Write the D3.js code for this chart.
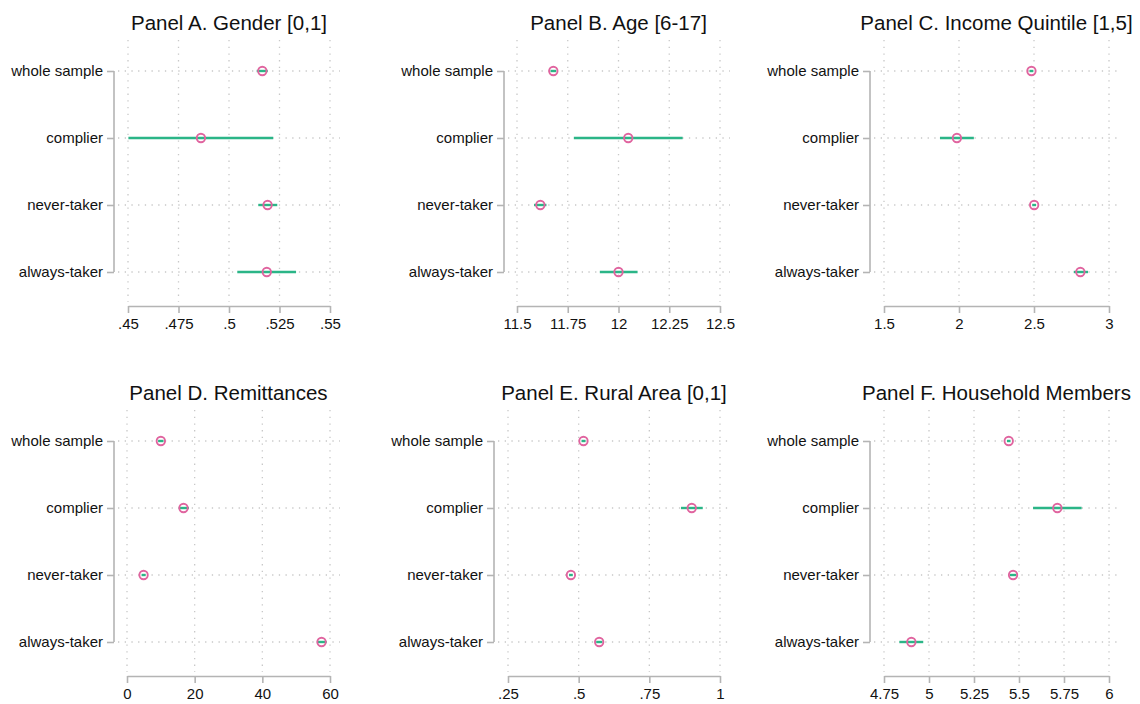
<!DOCTYPE html>
<html>
<head>
<meta charset="utf-8">
<script src="https://cdn.jsdelivr.net/npm/d3@7"></script>
<style>
  html, body { margin: 0; padding: 0; background: #fff; }
  svg { display: block; font-family: "Liberation Sans", Arial, Helvetica, sans-serif; }
</style>
</head>
<body>
<svg id="chart" width="1140" height="704"></svg>
<script>
// ---------------- data ----------------
const categories = ["whole sample", "complier", "never-taker", "always-taker"];

const panelTitles = [
  "Panel A. Gender [0,1]",
  "Panel B. Age [6-17]",
  "Panel C. Income Quintile [1,5]",
  "Panel D. Remittances",
  "Panel E. Rural Area [0,1]",
  "Panel F. Household Members"
];

// point estimates (order follows categories)
const estA = [0.5165, 0.4861, 0.5191, 0.5187];
const estB = [11.679, 12.048, 11.615, 12.000];
const estC = [2.483, 1.986, 2.501, 2.809];
const estD = [10.0, 16.7, 4.9, 57.5];
const estE = [0.517, 0.900, 0.4725, 0.5726];
const estF = [5.443, 5.713, 5.467, 4.902];

// confidence intervals: lower / upper
const loA = [0.5137, 0.4502, 0.5145, 0.5041];
const hiA = [0.5192, 0.5219, 0.5239, 0.5332];
const loB = [11.665, 11.780, 11.584, 11.908];
const hiB = [11.693, 12.316, 11.645, 12.094];
const loC = [2.470, 1.873, 2.488, 2.765];
const hiC = [2.496, 2.099, 2.514, 2.860];
const loD = [9.2, 15.3, 4.3, 56.1];
const hiD = [10.8, 18.3, 5.5, 59.0];
const loE = [0.510, 0.862, 0.466, 0.562];
const hiE = [0.524, 0.939, 0.479, 0.584];
const loF = [5.433, 5.578, 5.449, 4.835];
const hiF = [5.453, 5.848, 5.486, 4.968];

// axis domains and ticks
const domains = [[0.45, 0.55], [11.5, 12.5], [1.5, 3], [0, 60], [0.25, 1], [4.75, 6]];
const tickValsA = [0.45, 0.475, 0.5, 0.525, 0.55];
const tickValsB = [11.5, 11.75, 12, 12.25, 12.5];
const tickValsC = [1.5, 2, 2.5, 3];
const tickValsD = [0, 20, 40, 60];
const tickValsE = [0.25, 0.5, 0.75, 1];
const tickValsF = [4.75, 5, 5.25, 5.5, 5.75, 6];
const tickLabA = [".45", ".475", ".5", ".525", ".55"];
const tickLabB = ["11.5", "11.75", "12", "12.25", "12.5"];
const tickLabC = ["1.5", "2", "2.5", "3"];
const tickLabD = ["0", "20", "40", "60"];
const tickLabE = [".25", ".5", ".75", "1"];
const tickLabF = ["4.75", "5", "5.25", "5.5", "5.75", "6"];

// ---------------- layout (positions only) ----------------
const layout = [
  { axisX: 114, x0: 128, x1: 330, row: 0 },
  { axisX: 504, x0: 517, x1: 720, row: 0 },
  { axisX: 870, x0: 884, x1: 1109, row: 0 },
  { axisX: 114, x0: 127, x1: 330, row: 1 },
  { axisX: 494, x0: 508, x1: 720, row: 1 },
  { axisX: 870, x0: 884, x1: 1109, row: 1 }
];
const rowOffset = [0, 370];

const panels = [
  { est: estA, lo: loA, hi: hiA, tv: tickValsA, tl: tickLabA },
  { est: estB, lo: loB, hi: hiB, tv: tickValsB, tl: tickLabB },
  { est: estC, lo: loC, hi: hiC, tv: tickValsC, tl: tickLabC },
  { est: estD, lo: loD, hi: hiD, tv: tickValsD, tl: tickLabD },
  { est: estE, lo: loE, hi: hiE, tv: tickValsE, tl: tickLabE },
  { est: estF, lo: loF, hi: hiF, tv: tickValsF, tl: tickLabF }
];

const GRID = "#c8c8c8";
const AXIS = "#b4b4b4";
const GREEN = "#2bb587";
const PINK = "#e0649f";
const TEXT = "#111";

const svg = d3.select("#chart");

panels.forEach((p, i) => {
  const L = layout[i];
  const oy = rowOffset[L.row];
  const g = svg.append("g").attr("transform", `translate(0,${oy})`);

  const x = d3.scaleLinear().domain(domains[i]).range([L.x0, L.x1]);
  const y = d3.scalePoint().domain(categories).range([71, 272]);
  const gridTop = 40, gridBottom = 302, axisY = 306;
  const gridRight = L.x1 + 10;

  // title
  g.append("text")
    .attr("x", (L.x0 + L.x1) / 2)
    .attr("y", 30)
    .attr("text-anchor", "middle")
    .attr("font-size", 20.5)
    .attr("fill", TEXT)
    .text(panelTitles[i]);

  // vertical dotted grid
  g.append("g").selectAll("line")
    .data(p.tv)
    .join("line")
    .attr("x1", d => x(d)).attr("x2", d => x(d))
    .attr("y1", gridTop).attr("y2", gridBottom)
    .attr("stroke", GRID).attr("stroke-width", 1.3)
    .attr("stroke-dasharray", "1.3,5.4");

  // horizontal dotted grid
  g.append("g").selectAll("line")
    .data(categories)
    .join("line")
    .attr("x1", L.axisX + 4).attr("x2", gridRight)
    .attr("y1", d => y(d)).attr("y2", d => y(d))
    .attr("stroke", GRID).attr("stroke-width", 1.3)
    .attr("stroke-dasharray", "1.3,5.4");

  // y axis (left)
  const yAxis = d3.axisLeft(y).tickSize(7).tickPadding(4);
  const ya = g.append("g")
    .attr("transform", `translate(${L.axisX},0)`)
    .call(yAxis);
  ya.select(".domain").attr("d", `M-0,${y(categories[0])}V${y(categories[categories.length - 1])}`)
    .attr("stroke", AXIS).attr("stroke-width", 1.6);
  ya.selectAll(".tick line").attr("stroke", AXIS).attr("stroke-width", 1.6);
  ya.selectAll(".tick text")
    .attr("font-size", 15).attr("fill", TEXT)
    .attr("font-family", "'Liberation Sans', Arial, sans-serif");

  // x axis (bottom)
  const xAxis = d3.axisBottom(x)
    .tickValues(p.tv)
    .tickFormat((d, k) => p.tl[k])
    .tickSize(7).tickSizeOuter(0).tickPadding(5);
  const xa = g.append("g")
    .attr("transform", `translate(0,${axisY})`)
    .call(xAxis);
  xa.select(".domain").attr("stroke", AXIS).attr("stroke-width", 1.6);
  xa.selectAll(".tick line").attr("stroke", AXIS).attr("stroke-width", 1.6);
  xa.selectAll(".tick text")
    .attr("font-size", 15).attr("fill", TEXT)
    .attr("font-family", "'Liberation Sans', Arial, sans-serif");

  // confidence intervals
  g.append("g").selectAll("line")
    .data(categories)
    .join("line")
    .attr("x1", (d, k) => x(p.lo[k]))
    .attr("x2", (d, k) => x(p.hi[k]))
    .attr("y1", d => y(d)).attr("y2", d => y(d))
    .attr("stroke", GREEN).attr("stroke-width", 2.4);

  // point estimates
  g.append("g").selectAll("circle")
    .data(categories)
    .join("circle")
    .attr("cx", (d, k) => x(p.est[k]))
    .attr("cy", d => y(d))
    .attr("r", 4.2)
    .attr("fill", "none")
    .attr("stroke", PINK).attr("stroke-width", 1.9);
});
</script>
</body>
</html>
